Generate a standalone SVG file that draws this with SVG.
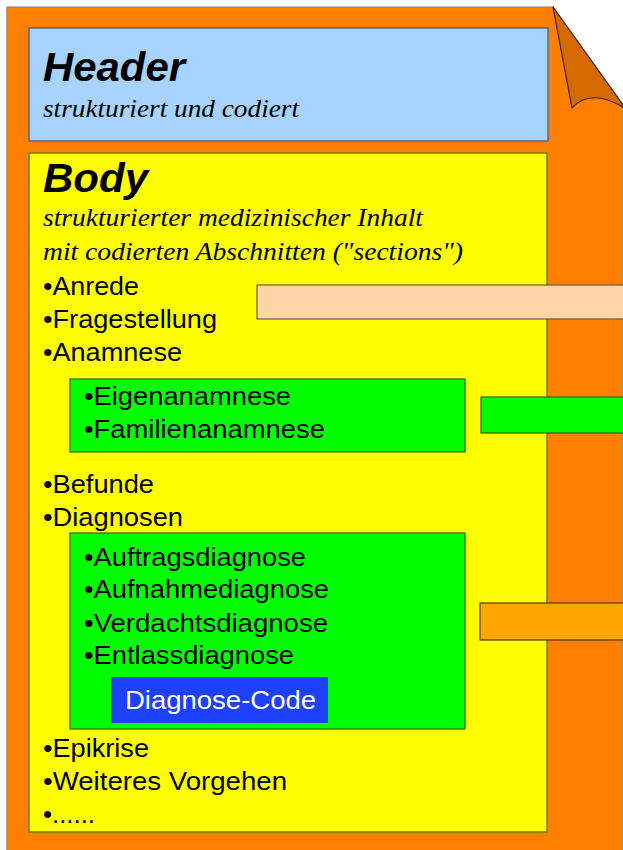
<svg xmlns="http://www.w3.org/2000/svg" width="623" height="850" viewBox="0 0 623 850">
<style>
.t{font-family:"Liberation Sans",Arial,sans-serif;font-size:26px;fill:#000}
.h{font-family:"Liberation Sans",Arial,sans-serif;font-size:40px;font-weight:bold;font-style:italic;fill:#000}
.s{font-family:"Liberation Serif","Times New Roman",serif;font-size:26px;font-style:italic;fill:#000}
.w{font-family:"Liberation Sans",Arial,sans-serif;font-size:26px;fill:#fff}
.grn{fill:#00ff00;stroke:#2e6400;stroke-width:1.2}
</style>
<rect x="0" y="0" width="623" height="850" fill="#fff"/>
<g id="page">
<path d="M7,7 L553,7 L623,105 L623,851 L7,851 Z" fill="#ff7f00" stroke="#808080" stroke-width="1.2"/>
<path d="M553,7 L572,108 Q590,88 623,107 L623,105 Z" fill="#d46a00" stroke="#3a2000" stroke-width="1.2" stroke-linejoin="round"/>
</g>
<g id="header">
<rect x="29" y="28" width="519" height="113" fill="#a6d3ff" stroke="#5a6a78" stroke-width="1.5"/>
<text class="h" x="43" y="81" textLength="142" lengthAdjust="spacingAndGlyphs">Header</text>
<text class="s" x="43" y="117" textLength="256" lengthAdjust="spacingAndGlyphs">strukturiert und codiert</text>
</g>
<g id="body">
<rect x="29" y="153" width="518" height="679" fill="#ffff00" stroke="#7a7a00" stroke-width="1.5"/>
<text class="h" x="43" y="192" textLength="105" lengthAdjust="spacingAndGlyphs">Body</text>
<text class="s" x="43" y="226" textLength="380" lengthAdjust="spacingAndGlyphs">strukturierter medizinischer Inhalt</text>
<text class="s" x="43" y="260" textLength="420" lengthAdjust="spacingAndGlyphs">mit codierten Abschnitten ("sections")</text>
<text class="t" x="43" y="295" textLength="96" lengthAdjust="spacingAndGlyphs">•Anrede</text>
<text class="t" x="43" y="328" textLength="174" lengthAdjust="spacingAndGlyphs">•Fragestellung</text>
<text class="t" x="43" y="361" textLength="139" lengthAdjust="spacingAndGlyphs">•Anamnese</text>
<text class="t" x="43" y="493" textLength="111" lengthAdjust="spacingAndGlyphs">•Befunde</text>
<text class="t" x="43" y="526" textLength="140" lengthAdjust="spacingAndGlyphs">•Diagnosen</text>
<text class="t" x="43" y="757" textLength="106" lengthAdjust="spacingAndGlyphs">•Epikrise</text>
<text class="t" x="43" y="790" textLength="244" lengthAdjust="spacingAndGlyphs">•Weiteres Vorgehen</text>
<text class="t" x="43" y="823" textLength="52" lengthAdjust="spacingAndGlyphs">•......</text>
</g>
<g id="anamnese">
<rect class="grn" x="70" y="379" width="395" height="73"/>
<text class="t" x="84" y="405" textLength="207" lengthAdjust="spacingAndGlyphs">•Eigenanamnese</text>
<text class="t" x="84" y="438" textLength="241" lengthAdjust="spacingAndGlyphs">•Familienanamnese</text>
</g>
<g id="diagnosen">
<rect class="grn" x="70" y="533" width="395" height="196"/>
<text class="t" x="84" y="566" textLength="222" lengthAdjust="spacingAndGlyphs">•Auftragsdiagnose</text>
<text class="t" x="84" y="598" textLength="245" lengthAdjust="spacingAndGlyphs">•Aufnahmediagnose</text>
<text class="t" x="84" y="632" textLength="244" lengthAdjust="spacingAndGlyphs">•Verdachtsdiagnose</text>
<text class="t" x="84" y="664" textLength="210" lengthAdjust="spacingAndGlyphs">•Entlassdiagnose</text>
</g>
<g id="diagnose-code">
<rect x="111" y="677" width="217" height="46" fill="#1e40ff"/>
<text class="w" x="125" y="709" textLength="191" lengthAdjust="spacingAndGlyphs">Diagnose-Code</text>
</g>
<g id="bar-peach">
<rect x="257" y="285" width="370" height="34" fill="#ffd4a6" stroke="#6e5a40" stroke-width="1.2"/>
</g>
<g id="bar-green">
<rect class="grn" x="481" y="397" width="146" height="36"/>
</g>
<g id="bar-orange">
<rect x="480" y="603" width="147" height="37" fill="#ffa500" stroke="#5a3a00" stroke-width="1.2"/>
</g>
</svg>
